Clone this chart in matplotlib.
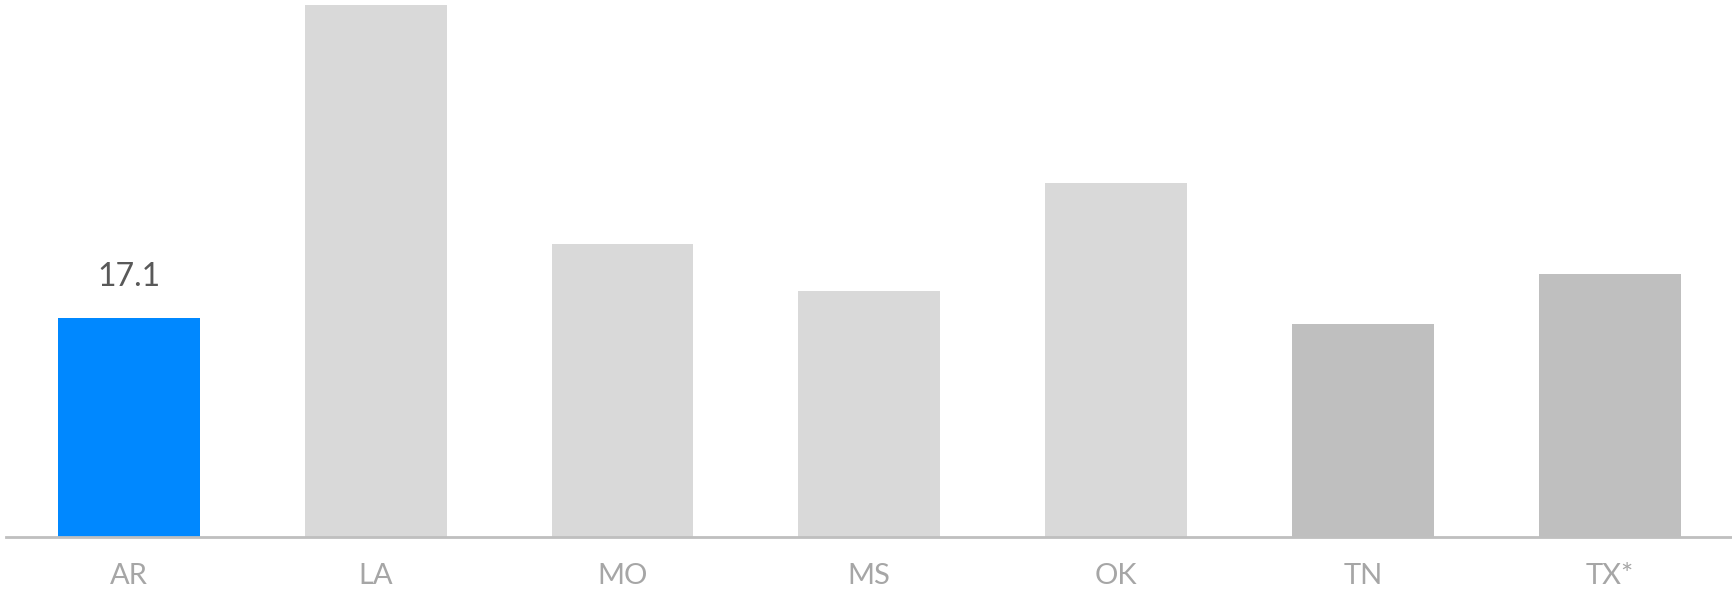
import matplotlib
matplotlib.use("Agg")
import matplotlib.pyplot as plt

categories = ["AR", "LA", "MO", "MS", "OK", "TN", "TX*"]
values = [17.1, 41.5, 22.9, 19.2, 27.6, 16.6, 20.5]
colors = ["#0088FF", "#D9D9D9", "#D9D9D9", "#D9D9D9", "#D9D9D9", "#BFBFBF", "#BFBFBF"]
labels_shown = {0: "17.1"}

plt.rcParams['font.family'] = ['Lato', 'DejaVu Sans']

fig = plt.figure(figsize=(17.33, 5.91), dpi=100)
ax = fig.add_axes([5.6/1733, 54/591, 1 - 5.6/1733, 537/591])

x = list(range(len(categories)))
ax.bar(x, values, width=0.575, color=colors, zorder=2)

ax.set_xlim(-0.5, 6.5)
ax.set_ylim(0, 41.9)

for i, txt in labels_shown.items():
    ax.text(x[i], values[i] + 3.2, txt, ha="center", va="center",
            fontsize=23, color="#595959")

for s in ["top", "right", "left"]:
    ax.spines[s].set_visible(False)
ax.spines["bottom"].set_color("#BFBFBF")
ax.spines["bottom"].set_linewidth(2)
ax.spines["bottom"].set_zorder(3)
ax.set_yticks([])
ax.set_xticks(x)
ax.set_xticklabels(categories, fontsize=21, color="#A6A6A6")
ax.tick_params(axis="x", length=0, pad=19)

fig.savefig("out.png", dpi=100)
